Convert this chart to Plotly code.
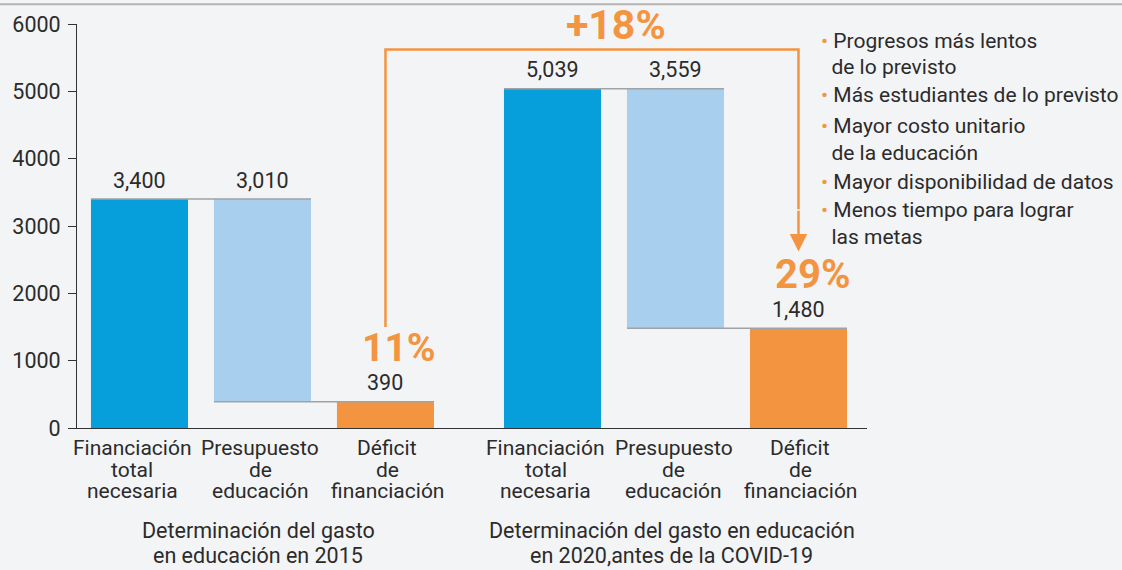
import plotly.graph_objects as go

# data
cat_lines = [
    ["Financiación", "total", "necesaria"],
    ["Presupuesto", "de", "educación"],
    ["Déficit", "de", "financiación"],
    ["Financiación", "total", "necesaria"],
    ["Presupuesto", "de", "educación"],
    ["Déficit", "de", "financiación"],
]
totals = [3400, 5039]
budgets = [3010, 3559]
deficits = [390, 1480]
deficit_pct = ["11%", "29%"]
change_label = "+18%"
group_titles = [
    ["Determinación del gasto", "en educación en 2015"],
    ["Determinación del gasto en educación", "en 2020,antes de la COVID-19"],
]
reasons = [
    ("•", "Progresos más lentos"),
    ("", "de lo previsto"),
    ("•", "Más estudiantes de lo previsto"),
    ("•", "Mayor costo unitario"),
    ("", "de la educación"),
    ("•", "Mayor disponibilidad de datos"),
    ("•", "Menos tiempo para lograr"),
    ("", "las metas"),
]

BLUE = "#079fdb"
LIGHT = "#a8cfee"
ORANGE = "#f39440"
TXT = "#2b2b2b"
GRID = "#9ea3a8"
FONT = "Roboto"

# build waterfall pieces
vals, bases, cols = [], [], []
for t, b, d in zip(totals, budgets, deficits):
    vals += [t, b, d]
    bases += [0, d, 0]
    cols += [BLUE, LIGHT, ORANGE]

GAP = 0.358
xs = [i + GAP * (i // 3) for i in range(6)]
W = 0.789
label_nudge = [-7, -2, 2]

fig = go.Figure()
fig.add_trace(go.Bar(x=xs, y=vals, base=bases, width=W, marker_color=cols,
                     marker_line_width=0, hoverinfo="skip"))

shapes = []
annots = []
for g in range(2):
    i0 = 3 * g
    # connectors
    for a, lvl in ((i0, totals[g]), (i0 + 1, deficits[g])):
        shapes.append(dict(type="line", xref="x", yref="y",
                           x0=xs[a] - W / 2, x1=xs[a + 1] + W / 2, y0=lvl, y1=lvl,
                           line=dict(color=GRID, width=1.5), layer="above"))
    # group titles
    for k, ln in enumerate(group_titles[g]):
        annots.append(dict(x=xs[i0 + 1], y=0, xref="x", yref="paper", text=ln,
                           showarrow=False, yanchor="middle", yshift=-102 - 25 * k,
                           xshift=-4, font=dict(size=21.5, color=TXT, family=FONT)))
    # percentages
    annots.append(dict(x=xs[i0 + 2], y=deficits[g], xref="x", yref="y",
                       text="<b>%s</b>" % deficit_pct[g], showarrow=False,
                       xshift=14, yshift=54, yanchor="middle",
                       font=dict(size=39 + g, color=ORANGE, family=FONT)))

# value labels and category labels
for i in range(6):
    top = vals[i] + bases[i]
    annots.append(dict(x=xs[i], y=top, xref="x", yref="y", text=f"{vals[i]:,}",
                       showarrow=False, yanchor="middle", yshift=19,
                       font=dict(size=21.5, color=TXT, family=FONT)))
    for k, ln in enumerate(cat_lines[i]):
        annots.append(dict(x=xs[i], y=0, xref="x", yref="paper", text=ln,
                           showarrow=False, yanchor="middle", yshift=-20 - 21.5 * k,
                           xshift=label_nudge[i % 3],
                           font=dict(size=21, color=TXT, family=FONT)))

# bracket +18%
Y_TOP = 5620
Y_LOW = 1500
Y_TIP = 2620
Y_ARROW = 3250
shapes.append(dict(type="path", xref="x", yref="y",
                   path=f"M {xs[2]},{Y_LOW} L {xs[2]},{Y_TOP} L {xs[5]},{Y_TOP} L {xs[5]},{Y_ARROW}",
                   line=dict(color=ORANGE, width=2.5)))
annots.append(dict(x=xs[5], y=Y_TIP, ax=xs[5], ay=Y_ARROW, xref="x", yref="y",
                   axref="x", ayref="y", showarrow=True, arrowhead=2, arrowsize=1.4,
                   arrowwidth=2.5, arrowcolor=ORANGE, text=""))
annots.append(dict(x=(xs[3] + xs[4]) / 2, y=Y_TOP, xref="x", yref="y",
                   text="<b>%s</b>" % change_label, showarrow=False, yanchor="middle",
                   yshift=25, xshift=2, font=dict(size=41, color=ORANGE, family=FONT)))

# reasons list
line_y = [38, 64, 93, 124, 151, 180, 208, 236]
for (bul, txt), py in zip(reasons, line_y):
    t = (f"<span style='color:{ORANGE}'>•</span> " + txt) if bul else "  " + txt
    annots.append(dict(x=(819 - 77) / 790, y=(428 - py) / 407, xref="paper", yref="paper",
                       text=t, showarrow=False, xanchor="left", yanchor="middle",
                       font=dict(size=21, color=TXT, family=FONT)))

# top border
shapes.append(dict(type="line", xref="paper", yref="paper", x0=-77 / 790, x1=1045 / 790,
                   y0=1.0491, y1=1.0491, line=dict(color="#b5b5b5", width=2)))

fig.update_layout(
    width=1122, height=570,
    margin=dict(l=77, r=255, t=21, b=142),
    paper_bgcolor="#f3f4f6", plot_bgcolor="#f3f4f6",
    showlegend=False,
    shapes=shapes, annotations=annots,
    xaxis=dict(range=[-0.508, 5.915], showgrid=False, zeroline=False,
               showticklabels=False, showline=True, linecolor="#333", linewidth=1),
    yaxis=dict(range=[0, 6000], tickvals=[0, 1000, 2000, 3000, 4000, 5000, 6000],
               showgrid=False, zeroline=False, showline=True, linecolor="#333",
               linewidth=1, ticks="outside", ticklen=8, tickcolor="#333",
               ticklabelstandoff=3,
               tickfont=dict(size=21.5, color=TXT, family=FONT)),
    font=dict(family=FONT),
)

fig.write_html("out.html", config={"displayModeBar": False},
               post_script="document.body.style.margin='0';")
